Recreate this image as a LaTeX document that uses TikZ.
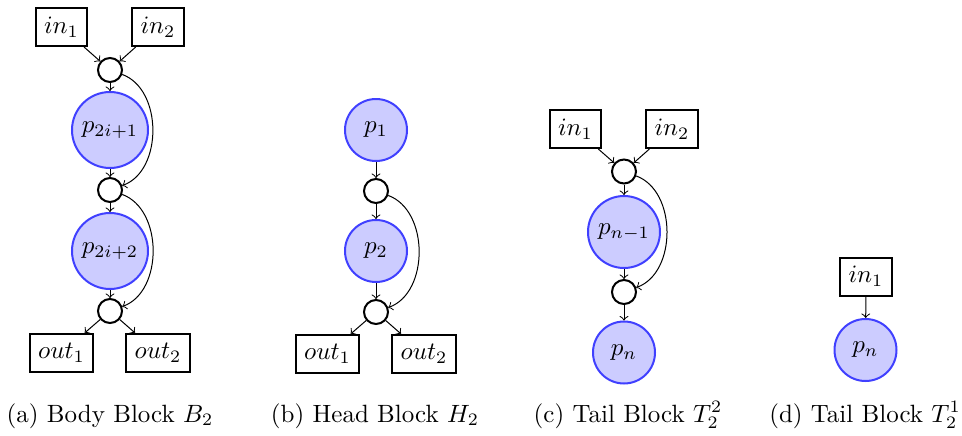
\documentclass[tikz,border=0pt]{standalone}
\usetikzlibrary{arrows}
\begin{document}
\begin{tikzpicture}[x=0.4pt,y=-0.4pt,
  proc/.style={circle,draw=blue!75,fill=blue!20,thick,minimum size=24.8pt,inner sep=2pt},
  junc/.style={circle,draw,thick,minimum size=9.6pt,inner sep=0pt},
  port/.style={rectangle,draw,thick,minimum height=15.2pt},
  arr/.style={->},
  captxt/.style={anchor=base}]
\useasboundingbox (0,0) rectangle (962,435);
% (a)
\node[port] (ain1) at (61.5,27) {$in_1$};
\node[port] (ain2) at (158,27) {$in_2$};
\node[junc] (ac1) at (110,70) {};
\node[proc,minimum size=30.4pt] (ap1) at (110,130) {$p_{2i+1}$};
\node[junc] (ac2) at (110,190) {};
\node[proc,minimum size=30.4pt] (ap2) at (110,251) {$p_{2i+2}$};
\node[junc] (ac3) at (110,311) {};
\node[port] (aout1) at (61.5,353) {$out_1$};
\node[port] (aout2) at (158,353) {$out_2$};
\draw[arr] (ain1) -- (ac1);
\draw[arr] (ain2) -- (ac1);
\draw[arr] (ac1) -- (ap1);
\draw[arr] (ap1) -- (ac2);
\draw[arr] (ac2) -- (ap2);
\draw[arr] (ap2) -- (ac3);
\draw[arr] (ac3) -- (aout1);
\draw[arr] (ac3) -- (aout2);
\draw[arr] (ac1) to[out=-20,in=20] (ac2);
\draw[arr] (ac2) to[out=-20,in=20] (ac3);
\node[captxt] (acap) at (110,422) {(a) Body Block $B_2$};
% (b)
\node[proc] (bp1) at (376,130) {$p_1$};
\node[junc] (bc1) at (376,191) {};
\node[proc] (bp2) at (376,251) {$p_2$};
\node[junc] (bc2) at (376,312) {};
\node[port] (bout1) at (327.5,354) {$out_1$};
\node[port] (bout2) at (424,354) {$out_2$};
\draw[arr] (bp1) -- (bc1);
\draw[arr] (bc1) -- (bp2);
\draw[arr] (bp2) -- (bc2);
\draw[arr] (bc2) -- (bout1);
\draw[arr] (bc2) -- (bout2);
\draw[arr] (bc1) to[out=-20,in=20] (bc2);
\node[captxt] (bcap) at (375,422) {(b) Head Block $H_2$};
% (c)
\node[port] (cin1) at (575.5,129) {$in_1$};
\node[port] (cin2) at (672,129) {$in_2$};
\node[junc] (cc1) at (624,171.5) {};
\node[proc,minimum size=28.8pt] (cp1) at (624,232) {$p_{n-1}$};
\node[junc] (cc2) at (624,292) {};
\node[proc] (cp2) at (624,352.5) {$p_n$};
\draw[arr] (cin1) -- (cc1);
\draw[arr] (cin2) -- (cc1);
\draw[arr] (cc1) -- (cp1);
\draw[arr] (cp1) -- (cc2);
\draw[arr] (cc2) -- (cp2);
\draw[arr] (cc1) to[out=-20,in=20] (cc2);
\node[captxt] (ccap) at (628,422) {(c) Tail Block $T_2^2$};
% (d)
\node[port] (din1) at (866,276.5) {$in_1$};
\node[proc] (dp1) at (865.5,350) {$p_n$};
\draw[arr] (din1) -- (dp1);
\node[captxt] (dcap) at (865,422) {(d) Tail Block $T_2^1$};
\end{tikzpicture}
\end{document}
